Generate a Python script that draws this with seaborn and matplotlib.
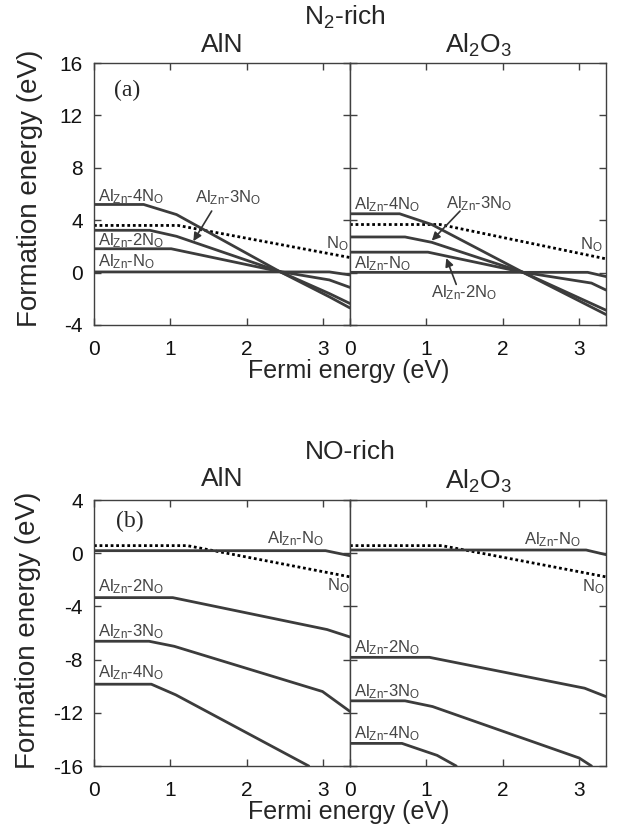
import matplotlib
matplotlib.use("Agg")
import matplotlib.pyplot as plt
import seaborn as sns

sns.set_theme(style="ticks")
plt.rcParams["font.family"] = ["Liberation Sans", "DejaVu Sans"]
plt.rcParams["mathtext.fontset"] = "custom"
plt.rcParams["mathtext.rm"] = "Liberation Sans"
plt.rcParams["mathtext.it"] = "Liberation Sans:italic"
plt.rcParams["axes.unicode_minus"] = False

# ── 数据：费米能级 (eV) 与形成能 (eV) 的折线拐点 ──
# 每条曲线 = (x 列表, y 列表)
aln_n2 = {
    "NO": ([0, 1.10, 3.35], [3.60, 3.60, 1.15]),
    "1": ([0, 3.08, 3.35], [0.05, 0.05, -0.18]),
    "2": ([0, 1.01, 2.43, 3.08, 3.35], [1.82, 1.82, 0.08, -0.56, -1.13]),
    "3": ([0, 0.73, 1.08, 2.43, 3.08, 3.35], [3.23, 3.23, 2.77, 0.08, -1.60, -2.36]),
    "4": ([0, 0.65, 1.08, 2.43, 3.08, 3.35], [5.20, 5.20, 4.43, 0.08, -1.85, -2.70]),
}
al2o3_n2 = {
    "NO": ([0, 1.18, 3.35], [3.67, 3.67, 1.05]),
    "1": ([0, 3.11, 3.35], [0.02, 0.02, -0.30]),
    "2": ([0, 1.02, 2.26, 3.16, 3.35], [1.56, 1.56, 0.03, -0.80, -1.33]),
    "3": ([0, 0.72, 1.07, 2.26, 3.35], [2.72, 2.72, 2.31, 0.03, -2.87]),
    "4": ([0, 0.65, 1.07, 2.26, 3.35], [4.49, 4.49, 3.67, 0.03, -3.20]),
}
aln_no = {
    "NO": ([0, 1.22, 3.35], [0.57, 0.57, -1.78]),
    "1": ([0, 3.03, 3.35], [0.19, 0.19, -0.19]),
    "2": ([0, 1.03, 3.05, 3.35], [-3.34, -3.34, -5.74, -6.30]),
    "3": ([0, 0.72, 1.05, 2.99, 3.35], [-6.62, -6.62, -7.00, -10.40, -11.90]),
    "4": ([0, 0.75, 1.07, 2.81], [-9.85, -9.85, -10.65, -16.0]),
}
al2o3_no = {
    "NO": ([0, 1.20, 3.35], [0.57, 0.57, -1.78]),
    "1": ([0, 3.09, 3.35], [0.24, 0.24, -0.11]),
    "2": ([0, 1.04, 3.07, 3.35], [-7.83, -7.83, -10.15, -10.78]),
    "3": ([0, 0.72, 1.08, 3.00, 3.16], [-11.10, -11.10, -11.53, -15.40, -16.0]),
    "4": ([0, 0.68, 1.14, 1.39], [-14.30, -14.30, -15.20, -16.0]),
}

x_ticks = [0, 1, 2, 3]
y_ticks_top = [-4, 0, 4, 8, 12, 16]
y_ticks_bot = [-16, -12, -8, -4, 0, 4]

LINE = "#3c3c3c"
TXT = "#444444"
W, H = 619, 838


def lbl(n):
    pre = "" if n == "1" else n
    return r"Al$_{\mathrm{Zn}}$-" + pre + r"N$_{\mathrm{O}}$"


NO_LBL = r"N$_{\mathrm{O}}$"


def make_ax(fig, left, top, right, bottom):
    return fig.add_axes([left / W, 1 - bottom / H, (right - left) / W, (bottom - top) / H])


def draw(ax, data, ylim, yticks, show_y):
    for key, (xs, ys) in data.items():
        if key == "NO":
            sns.lineplot(x=xs, y=ys, ax=ax, sort=False, estimator=None, color="black",
                         lw=2.0, linestyle=(0, (1, 1)))
        else:
            sns.lineplot(x=xs, y=ys, ax=ax, sort=False, estimator=None, color=LINE, lw=2.0)
    ax.set_xlim(0, 3.35)
    ax.set_ylim(*ylim)
    ax.set_xticks(x_ticks)
    ax.set_yticks(yticks)
    ax.tick_params(direction="in", top=True, right=True, length=5, width=1,
                   color="#404040", labelsize=15, labelcolor="#111111",
                   labelleft=show_y)
    ax.tick_params(axis="x", pad=11)
    ax.tick_params(axis="y", pad=8)
    for s in ax.spines.values():
        s.set_color("#404040")
        s.set_linewidth(1.0)
    ax.set_xlabel("")
    ax.set_ylabel("")


def txt(ax, x, y, s, ha="left", size=12):
    ax.text(x, y, s, ha=ha, va="center", fontsize=size, color=TXT)


def arrow(ax, start, end):
    ax.annotate("", xy=end, xytext=start,
                arrowprops=dict(arrowstyle="-|>", color="#333333", lw=1.2,
                                mutation_scale=12, shrinkA=0, shrinkB=0))


fig = plt.figure(figsize=(W / 100, H / 100), dpi=100)

# ── (a) N2-rich ──
ax1 = make_ax(fig, 94, 63, 350, 325)
ax2 = make_ax(fig, 350, 63, 606, 325)
draw(ax1, aln_n2, (-4, 16), y_ticks_top, True)
draw(ax2, al2o3_n2, (-4, 16), y_ticks_top, False)

ax1.text(0.44, 13.9, "(a)", family="Liberation Serif", fontsize=17, ha="center", va="center")
txt(ax1, 0.05, 5.8, lbl("4"))
txt(ax1, 1.76, 5.7, lbl("3"), ha="center")
arrow(ax1, (1.54, 4.7), (1.30, 2.4))
txt(ax1, 0.05, 2.45, lbl("2"))
txt(ax1, 0.05, 0.85, lbl("1"))
txt(ax1, 3.18, 2.2, NO_LBL, ha="center")

txt(ax2, 0.05, 5.15, lbl("4"))
txt(ax2, 1.69, 5.25, lbl("3"), ha="center")
arrow(ax2, (1.44, 4.7), (1.07, 2.44))
txt(ax2, 0.05, 0.65, lbl("1"))
txt(ax2, 1.49, -1.5, lbl("2"), ha="center")
arrow(ax2, (1.39, -0.9), (1.26, 1.1))
txt(ax2, 3.16, 2.1, NO_LBL, ha="center")

fig.text(345 / W, 1 - 17 / H, r"N$_2$-rich", ha="center", va="center", fontsize=19)
fig.text(222 / W, 1 - 45 / H, "AlN", ha="center", va="center", fontsize=19)
fig.text(478 / W, 1 - 45 / H, r"Al$_2$O$_3$", ha="center", va="center", fontsize=19)
fig.text(30 / W, 1 - 188 / H, "Formation energy (eV)", rotation=90, ha="center",
         va="center", fontsize=20)
fig.text(349 / W, 1 - 378 / H, "Fermi energy (eV)", ha="center", va="baseline", fontsize=18)

# ── (b) NO-rich ──
ax3 = make_ax(fig, 94, 500, 350, 766)
ax4 = make_ax(fig, 350, 500, 606, 766)
draw(ax3, aln_no, (-16, 4), y_ticks_bot, True)
draw(ax4, al2o3_no, (-16, 4), y_ticks_bot, False)

ax3.text(0.47, 2.4, "(b)", family="Liberation Serif", fontsize=17, ha="center", va="center")
txt(ax3, 2.64, 1.1, lbl("1"), ha="center")
txt(ax3, 3.20, -2.45, NO_LBL, ha="center")
txt(ax3, 0.05, -2.5, lbl("2"))
txt(ax3, 0.05, -5.9, lbl("3"))
txt(ax3, 0.05, -9.0, lbl("4"))

txt(ax4, 2.65, 1.0, lbl("1"), ha="center")
txt(ax4, 3.18, -2.55, NO_LBL, ha="center")
txt(ax4, 0.05, -7.1, lbl("2"))
txt(ax4, 0.05, -10.4, lbl("3"))
txt(ax4, 0.05, -13.6, lbl("4"))

fig.text(350 / W, 1 - 452 / H, "NO-rich", ha="center", va="center", fontsize=19)
fig.text(222 / W, 1 - 479 / H, "AlN", ha="center", va="center", fontsize=19)
fig.text(478 / W, 1 - 481 / H, r"Al$_2$O$_3$", ha="center", va="center", fontsize=19)
fig.text(28 / W, 1 - 630 / H, "Formation energy (eV)", rotation=90, ha="center",
         va="center", fontsize=20)
fig.text(349 / W, 1 - 819 / H, "Fermi energy (eV)", ha="center", va="baseline", fontsize=18)

fig.savefig("out.png", dpi=100)
